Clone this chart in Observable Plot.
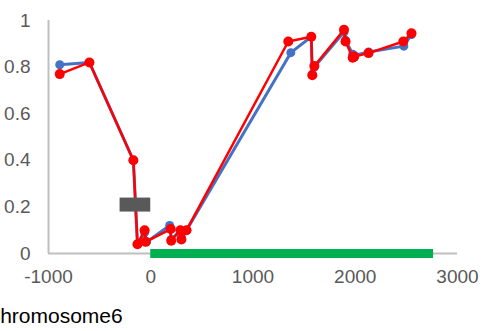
<!DOCTYPE html>
<html>
<head>
<meta charset="utf-8">
<script src="https://cdn.jsdelivr.net/npm/d3@7"></script>
<script src="https://cdn.jsdelivr.net/npm/@observablehq/plot@0.6"></script>
<style>
  html, body { margin: 0; padding: 0; background: #fff; overflow: hidden; }
  #title { font-family: "Liberation Sans", Arial, sans-serif; font-size: 21px; line-height: 24px; color: #000; margin-left: -15px; white-space: nowrap; }
</style>
</head>
<body>
<div id="chart"></div>
<div id="title">Chromosome6</div>
<script>
const title = "Chromosome6";
const xTicks = [-1000, 0, 1000, 2000, 3000];
const yTicks = [0, 0.2, 0.4, 0.6, 0.8, 1];

const redX = [-890, -600, -170, -130, -60, -50, 195, 200, 290, 300, 350, 1345, 1570, 1580, 1600, 1890, 1905, 1975, 1990, 2130, 2470, 2550];
const redY = [0.77, 0.82, 0.40, 0.04, 0.10, 0.05, 0.105, 0.055, 0.10, 0.06, 0.10, 0.91, 0.93, 0.765, 0.805, 0.96, 0.91, 0.84, 0.845, 0.86, 0.91, 0.945];

const blueX = [-890, -600, -170, -130, -60, -40, 185, 200, 290, 300, 350, 1370, 1570, 1580, 1600, 1890, 1905, 1975, 1990, 2130, 2475, 2550];
const blueY = [0.81, 0.82, 0.40, 0.04, 0.09, 0.05, 0.12, 0.06, 0.10, 0.07, 0.10, 0.862, 0.93, 0.77, 0.80, 0.95, 0.915, 0.855, 0.85, 0.865, 0.89, 0.94];

const greenStart = [0], greenEnd = [2766], greenY = [0];
const greyStart = [-300], greyEnd = [0], greyY = [0.21];

const red = redX.map((x, i) => ({x, y: redY[i]}));
const blue = blueX.map((x, i) => ({x, y: blueY[i]}));
const green = greenStart.map((x1, i) => ({x1, x2: greenEnd[i], y: greenY[i]}));
const grey = greyStart.map((x1, i) => ({x1, x2: greyEnd[i], y: greyY[i]}));

const chart = Plot.plot({
  width: 491,
  height: 304,
  marginLeft: 48,
  marginRight: 34,
  marginTop: 20,
  marginBottom: 51,
  style: { fontFamily: "'Liberation Sans', Arial, sans-serif", fontSize: "19px", color: "#595959", background: "#fff" },
  x: { domain: [-1000, 3000], ticks: xTicks, tickFormat: d => String(d), label: null },
  y: { domain: [0, 1], ticks: yTicks, tickFormat: d => String(+d.toFixed(1)), label: null },
  marks: [
    Plot.axisX({ticks: xTicks, tickSize: 0, tickPadding: 16, tickFormat: d => String(d), fill: "#595959", label: null}),
    Plot.axisY({ticks: yTicks, tickSize: 0, tickPadding: 18, tickFormat: d => String(+d.toFixed(1)), fill: "#595959", label: null}),
    Plot.ruleX([-1000], {stroke: "#bfbfbf", strokeWidth: 2}),
    Plot.ruleY([0], {stroke: "#bfbfbf", strokeWidth: 2}),
    Plot.line(blue, {x: "x", y: "y", stroke: "#4472c4", strokeWidth: 3}),
    Plot.dot(blue, {x: "x", y: "y", r: 4.5, fill: "#4472c4", stroke: "none"}),
    Plot.line(red, {x: "x", y: "y", stroke: "#ff0000", strokeWidth: 2.5}),
    Plot.dot(red, {x: "x", y: "y", r: 5, fill: "#ff0000", stroke: "none"}),
    Plot.ruleY(grey, {y: "y", x1: "x1", x2: "x2", stroke: "#595959", strokeWidth: 14}),
    Plot.ruleY(green, {y: "y", x1: "x1", x2: "x2", stroke: "#00b050", strokeWidth: 9})
  ]
});
document.getElementById("chart").appendChild(chart);
document.getElementById("title").textContent = title;
</script>
</body>
</html>
